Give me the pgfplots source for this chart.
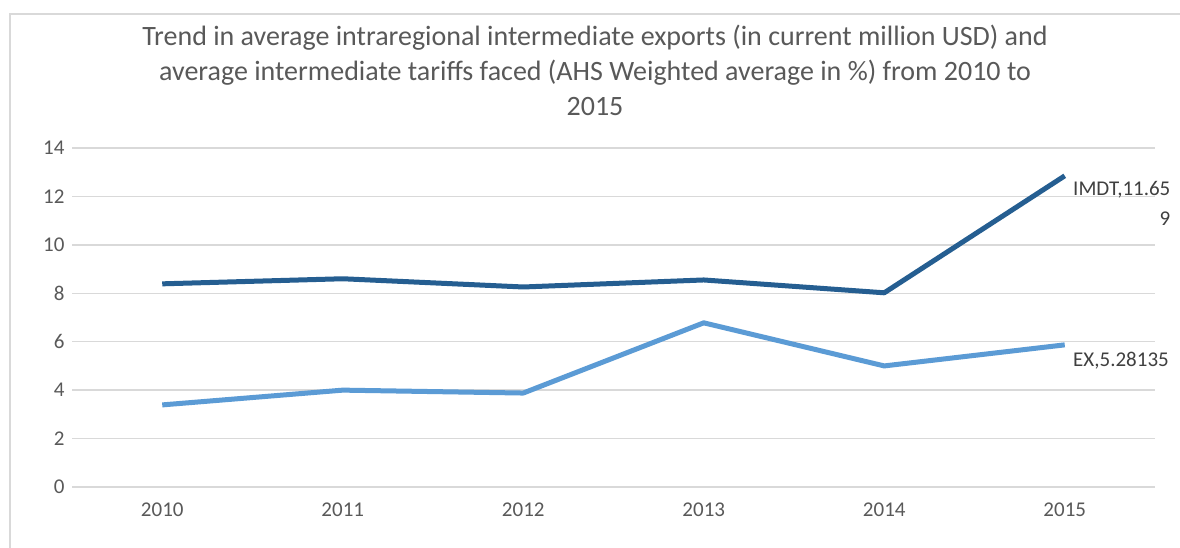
\documentclass[border=0pt]{standalone}
\usepackage{pgfplots}
\pgfplotsset{compat=1.18}
\usepackage{fontspec}
\setmainfont{Carlito}
\definecolor{gridgray}{HTML}{D9D9D9}
\definecolor{txtgray}{HTML}{595959}
\definecolor{lblgray}{HTML}{404040}
\definecolor{imdt}{HTML}{255E91}
\definecolor{ex}{HTML}{5B9BD5}
\begin{document}
\begin{tikzpicture}[x=1pt,y=1pt]
\path[use as bounding box] (0,0) rectangle (1180,548);
\clip (0,0) rectangle (1180,548);
\fill[white] (0,0) rectangle (1180,548);
\draw[gridgray, line width=1.5pt] (10,0) -- (10,534) -- (1180,534);
\node[align=center, text=txtgray, font=\fontsize{28}{35}\selectfont] at (595,478)
  {Trend in average intraregional intermediate exports (in current million USD) and\\
   average intermediate tariffs faced (AHS Weighted average in \%) from 2010 to\\
   2015};
\begin{axis}[
  at={(72pt,61pt)}, anchor=south west,
  scale only axis, width=1083pt, height=339pt,
  xmin=-0.5, xmax=5.5, ymin=0, ymax=14,
  axis line style={draw=none}, tick style={draw=none},
  ytick={0,2,...,14},
  xtick={0,1,2,3,4,5},
  xticklabels={2010,2011,2012,2013,2014,2015},
  ymajorgrids, grid style={gridgray, line width=1.5pt},
  /pgf/number format/assume math mode=true,
  ticklabel style={font=\fontsize{21}{24}\selectfont, text=txtgray},
  yticklabel style={xshift=-4pt},
  xticklabel style={yshift=-12pt},
  clip=false,
]
\addplot[imdt, line width=5pt, line join=round] coordinates {
  (0,8.39) (1,8.6) (2,8.26) (3,8.55) (4,8.02) (5,12.85)}
  node[pos=1, anchor=north west, xshift=4pt, yshift=-1pt, align=right, text=lblgray,
       inner sep=2pt, font=\fontsize{21}{30}\selectfont] {IMDT,11.65\\9};
\addplot[ex, line width=5pt, line join=round] coordinates {
  (0,3.39) (1,4.0) (2,3.88) (3,6.78) (4,5.0) (5,5.87)}
  node[pos=1, anchor=north west, xshift=4pt, yshift=-3pt, text=lblgray,
       inner sep=2pt, font=\fontsize{21}{28}\selectfont] {EX,5.28135};
\end{axis}
\end{tikzpicture}
\end{document}
